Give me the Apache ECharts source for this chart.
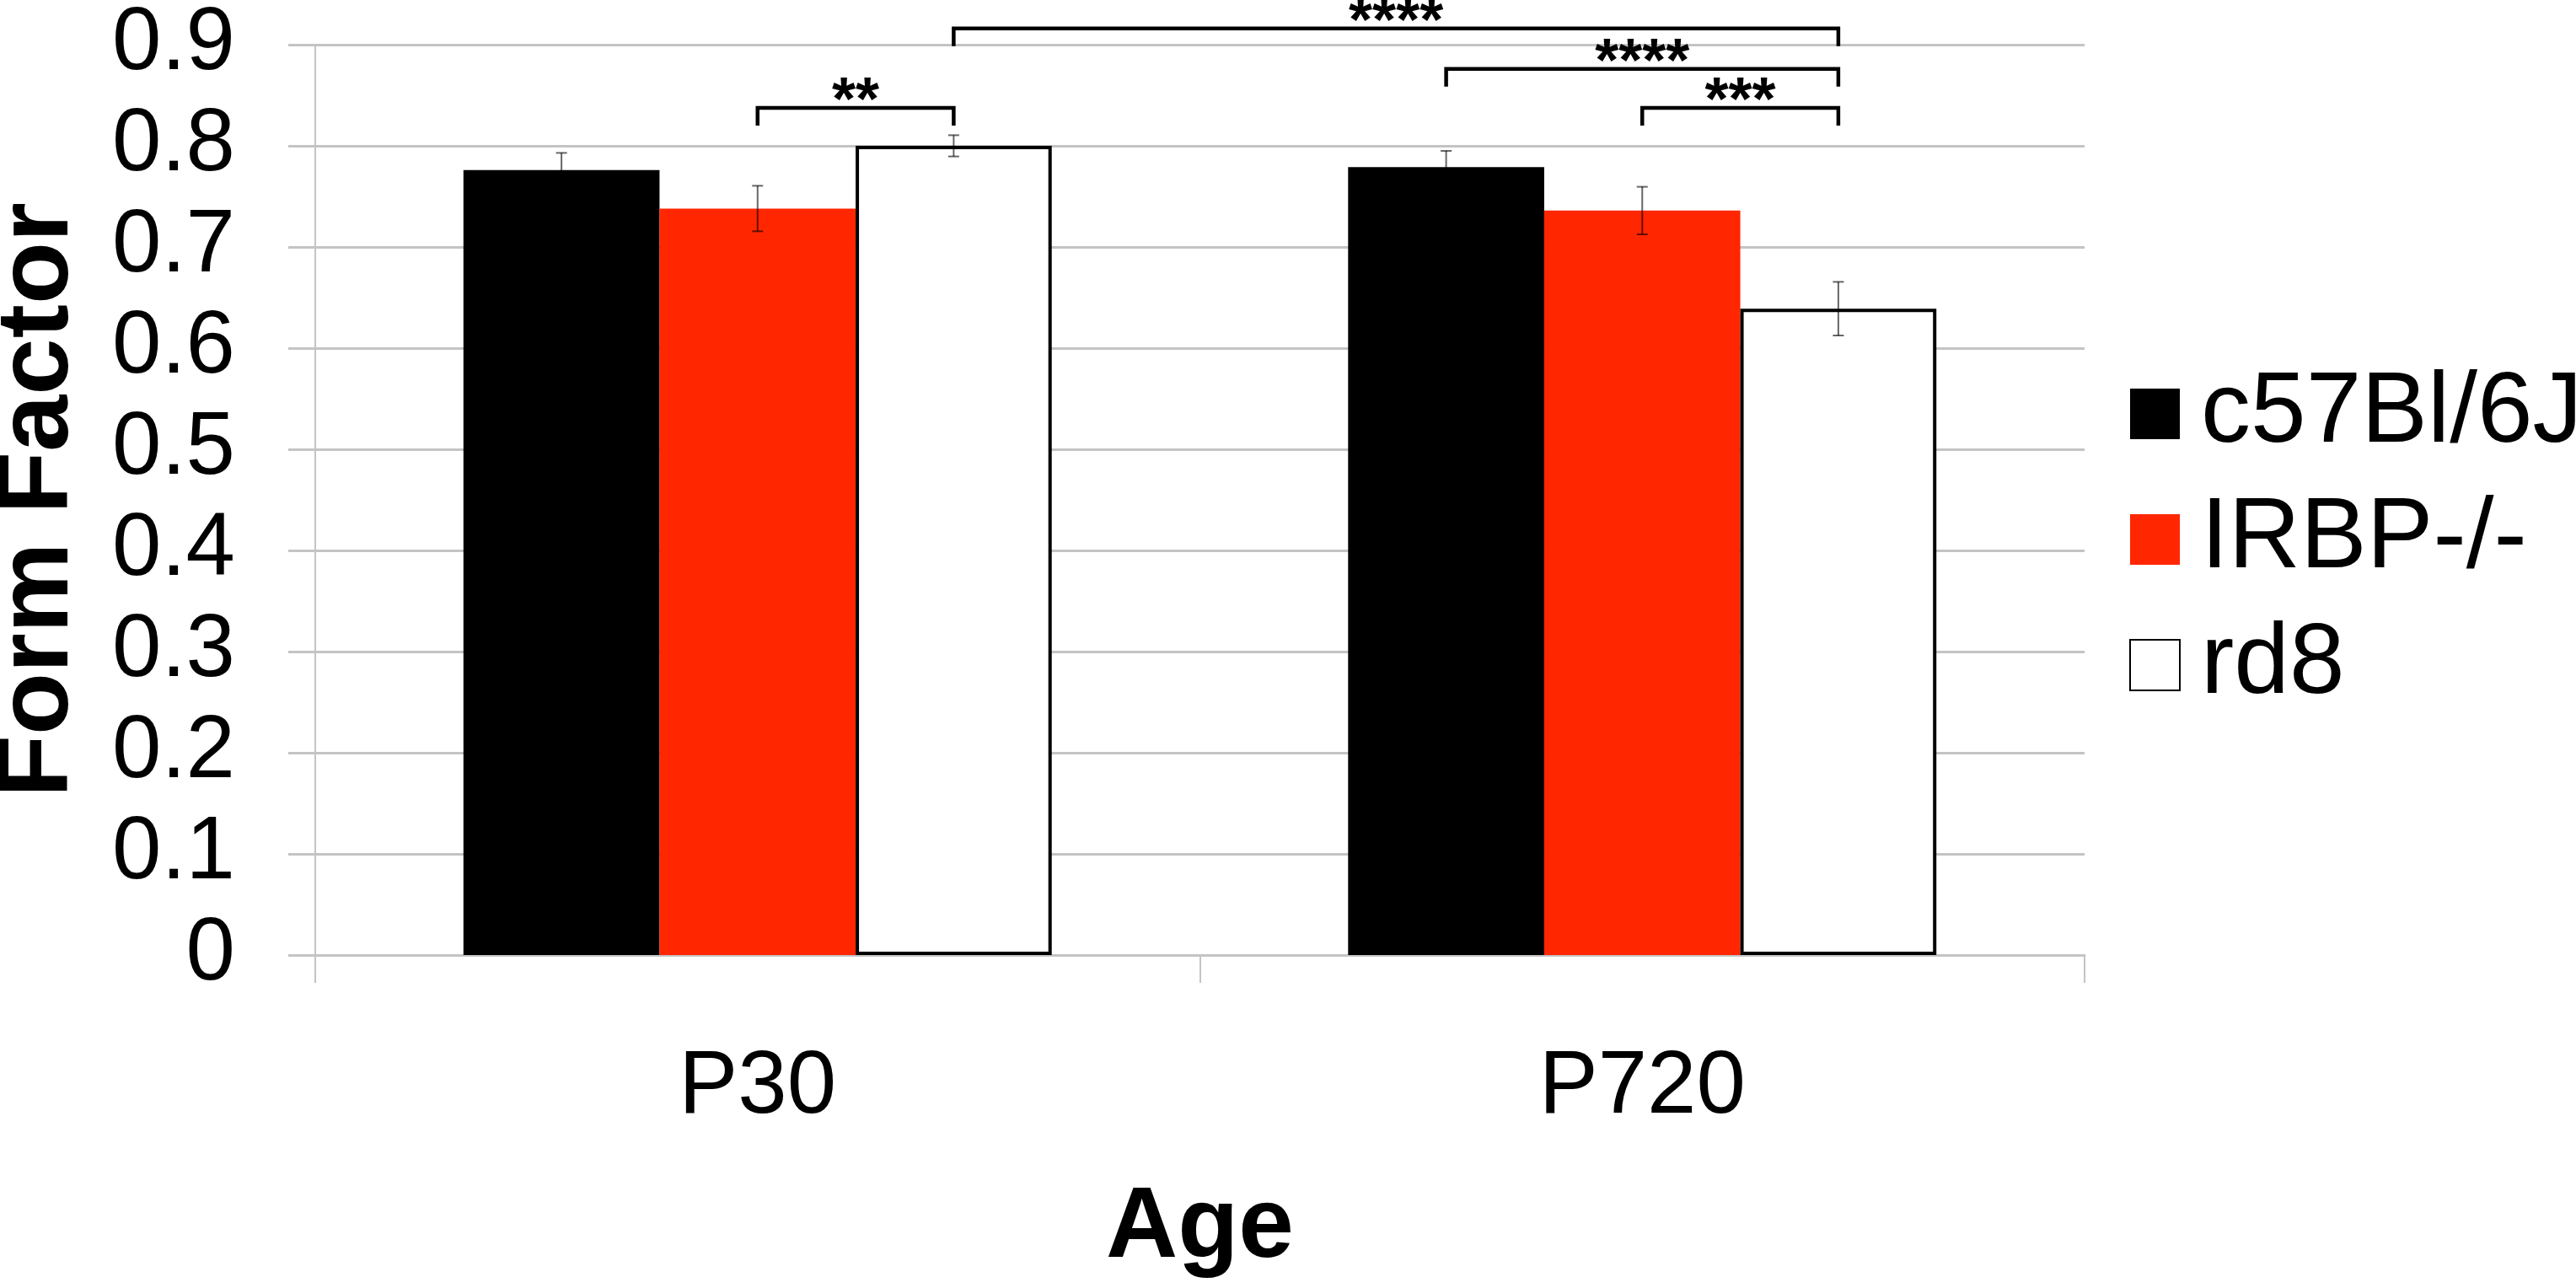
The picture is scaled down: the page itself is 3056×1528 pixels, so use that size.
<!DOCTYPE html>
<html>
<head>
<meta charset="utf-8">
<script src="https://cdn.jsdelivr.net/npm/echarts@6/dist/echarts.min.js"></script>
<style>
html,body{margin:0;padding:0;background:#fff;}
#chart{width:3056px;height:1528px;}
</style>
</head>
<body>
<div id="chart"></div>
<script>
// ---- data ----
const categories = ['P30', 'P720'];
const seriesNames = ['c57Bl/6J', 'IRBP-/-', 'rd8'];
const c57Values = [0.776, 0.779];
const c57Errors = [0.017, 0.016];
const irbpValues = [0.738, 0.736];
const irbpErrors = [0.0225, 0.0235];
const rd8Values = [0.800, 0.639];
const rd8Errors = [0.0105, 0.0265];
const yTicks = [0, 0.1, 0.2, 0.3, 0.4, 0.5, 0.6, 0.7, 0.8, 0.9];
// significance brackets: [fromCategory, fromSeries, toCategory, toSeries, yValue, label]
const sigBrackets = [
  [0, 2, 1, 2, 0.916, '****'],
  [1, 0, 1, 2, 0.876, '****'],
  [1, 1, 1, 2, 0.8375, '***'],
  [0, 1, 0, 2, 0.8375, '**']
];

const FONT = '"Liberation Sans", Arial, Helvetica, sans-serif';
const GAP = 0.335;
const N = seriesNames.length;

const allValues = [c57Values, irbpValues, rd8Values];
const allErrors = [c57Errors, irbpErrors, rd8Errors];
const errData = [];
for (let s = 0; s < N; s++) {
  for (let c = 0; c < categories.length; c++) {
    errData.push([c, s, allValues[s][c], allErrors[s][c]]);
  }
}

function barX(api, cat, s, v) {
  const p = api.coord([cat, v]);
  const band = api.size([1, 0])[0];
  const bw = band * (1 - GAP) / N;
  return [p[0] + (s - (N - 1) / 2) * bw, p[1]];
}

const chart = echarts.init(document.getElementById('chart'));
chart.setOption({
  backgroundColor: '#ffffff',
  animation: false,
  grid: { left: 374, right: 583, top: 53, bottom: 395, containLabel: false, outerBoundsMode: 'none' },
  legend: {
    data: seriesNames,
    orient: 'vertical',
    left: 2521,
    top: 427,
    itemWidth: 59,
    itemHeight: 60,
    itemGap: 31,
    icon: 'rect',
    textStyle: { fontFamily: FONT, fontSize: 118, color: '#000', lineHeight: 38, padding: [22, 0, 0, 20] }
  },
  xAxis: {
    type: 'category',
    data: categories,
    name: 'Age',
    nameLocation: 'middle',
    nameGap: 266,
    nameTextStyle: { fontFamily: FONT, fontSize: 118, fontWeight: 'bold', color: '#000' },
    axisLine: { lineStyle: { color: '#c4c4c4', width: 3 } },
    axisTick: { show: true, length: 33, lineStyle: { color: '#c4c4c4', width: 2 } },
    axisLabel: { fontFamily: FONT, fontSize: 105, color: '#000', margin: 106 },
    splitLine: { show: false }
  },
  yAxis: {
    type: 'value',
    min: 0,
    max: 0.9,
    interval: 0.1,
    name: 'Form Factor',
    nameLocation: 'middle',
    nameGap: 267,
    nameRotate: 90,
    nameTextStyle: { fontFamily: FONT, fontSize: 121, fontWeight: 'bold', color: '#000' },
    axisLine: { show: true, lineStyle: { color: '#c4c4c4', width: 2 } },
    axisTick: { show: true, length: 32, lineStyle: { color: '#c4c4c4', width: 3 } },
    axisLabel: {
      fontFamily: FONT, fontSize: 105, color: '#000', margin: 95,
      formatter: function (v) {
        const t = yTicks.find(function (k) { return Math.abs(k - v) < 1e-9; });
        return t === undefined ? '' : String(t);
      }
    },
    splitLine: { show: true, lineStyle: { color: '#c4c4c4', width: 3 } }
  },
  series: [
    {
      name: seriesNames[0], type: 'bar', data: c57Values,
      barGap: '0%', barCategoryGap: (GAP * 100) + '%',
      itemStyle: { color: '#000000' }
    },
    {
      name: seriesNames[1], type: 'bar', data: irbpValues,
      barGap: '0%', barCategoryGap: (GAP * 100) + '%',
      itemStyle: { color: '#ff2600' }
    },
    {
      name: seriesNames[2], type: 'bar', data: rd8Values,
      barGap: '0%', barCategoryGap: (GAP * 100) + '%',
      itemStyle: { color: '#ffffff', borderColor: '#000000', borderWidth: 4 }
    },
    {
      type: 'custom',
      z: 5,
      silent: true,
      data: errData,
      encode: { x: 0, y: 2 },
      renderItem: function (params, api) {
        const cat = api.value(0), s = api.value(1), v = api.value(2), e = api.value(3);
        const hi = barX(api, cat, s, v + e);
        const lo = barX(api, cat, s, v - e);
        const x = hi[0], cw = 6.5;
        const st = { stroke: 'rgba(0,0,0,0.6)', lineWidth: 2 };
        return {
          type: 'group',
          children: [
            { type: 'line', shape: { x1: x, y1: hi[1], x2: x, y2: lo[1] }, style: st },
            { type: 'line', shape: { x1: x - cw, y1: hi[1], x2: x + cw, y2: hi[1] }, style: st },
            { type: 'line', shape: { x1: x - cw, y1: lo[1], x2: x + cw, y2: lo[1] }, style: st }
          ]
        };
      }
    },
    {
      type: 'custom',
      z: 6,
      silent: true,
      clip: false,
      data: sigBrackets.map(function (b) { return [b[0], b[1], b[2], b[3], b[4]]; }),
      encode: { x: 0, y: 4 },
      renderItem: function (params, api) {
        const b = sigBrackets[params.dataIndex];
        const p1 = barX(api, b[0], b[1], b[4]);
        const p2 = barX(api, b[2], b[3], b[4]);
        const drop = 21;
        const st = { stroke: '#000000', lineWidth: 4.5, lineJoin: 'miter', fill: null };
        return {
          type: 'group',
          children: [
            { type: 'polyline', shape: { points: [[p1[0], p1[1] + drop], [p1[0], p1[1]], [p2[0], p2[1]], [p2[0], p2[1] + drop]] }, style: st },
            { type: 'text', style: { text: b[5], x: (p1[0] + p2[0]) / 2, y: p1[1] - 6, textAlign: 'center', textVerticalAlign: 'middle', font: 'bold 72px ' + FONT, fill: '#000' } }
          ]
        };
      }
    }
  ]
});
</script>
</body>
</html>
